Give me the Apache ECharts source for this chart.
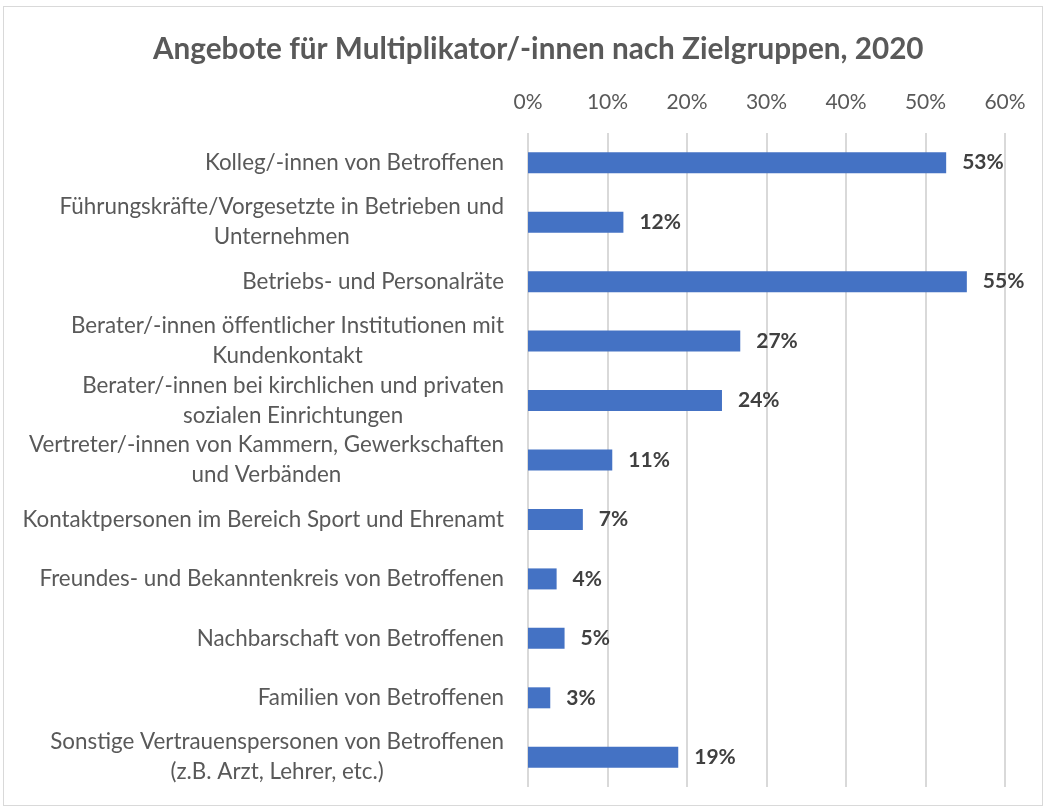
<!DOCTYPE html>
<html>
<head>
    <meta charset="utf-8">
    <title>Angebote für Multiplikator/-innen</title>
    <script src="https://cdn.jsdelivr.net/npm/echarts@6/dist/echarts.min.js"></script>
</head>
<body style="margin:0;background:#fff">
<div id="main" style="position:absolute;left:3px;top:6px;width:1040px;height:800px;border:1px solid #d9d9d9;box-sizing:border-box"></div>
<script type="text/javascript">
    // Kategorien (von oben nach unten) und Werte in Prozent
    var categories = [
        'Kolleg/-innen von Betroffenen',
        'Führungskräfte/Vorgesetzte in Betrieben und\nUnternehmen',
        'Betriebs- und Personalräte',
        'Berater/-innen öffentlicher Institutionen mit\nKundenkontakt',
        'Berater/-innen bei kirchlichen und privaten\nsozialen Einrichtungen',
        'Vertreter/-innen von Kammern, Gewerkschaften\nund Verbänden',
        'Kontaktpersonen im Bereich Sport und Ehrenamt',
        'Freundes- und Bekanntenkreis von Betroffenen',
        'Nachbarschaft von Betroffenen',
        'Familien von Betroffenen',
        'Sonstige Vertrauenspersonen von Betroffenen\n(z.B. Arzt, Lehrer, etc.)'
    ];
    var values = [52.6, 12.0, 55.2, 26.7, 24.4, 10.6, 6.9, 3.6, 4.6, 2.8, 18.9];
    var tickLabels = ['0%', '10%', '20%', '30%', '40%', '50%', '60%'];

    var font = 'Lato, "Open Sans", sans-serif';
    var myChart = echarts.init(document.getElementById('main'));

    myChart.setOption({
        animation: false,
        title: {
            text: 'Angebote für Multiplikator/-innen nach Zielgruppen, 2020',
            left: 144,
            top: 22,
            textStyle: {color: '#595959', fontSize: 29.7, fontWeight: 'bold', fontFamily: font}
        },
        grid: {left: 524, right: 37, top: 126, bottom: 18},
        xAxis: {
            type: 'value',
            position: 'top',
            min: 0,
            max: 60,
            interval: 10,
            axisLine: {show: false},
            axisTick: {show: false},
            splitLine: {lineStyle: {color: '#d9d9d9', width: 2}},
            axisLabel: {
                color: '#595959', fontSize: 21, fontFamily: font, margin: 20,
                formatter: function (v) { return tickLabels[v / 10]; }
            }
        },
        yAxis: {
            type: 'category',
            data: categories,
            inverse: true,
            axisLine: {show: false},
            axisTick: {show: false},
            axisLabel: {
                color: '#595959', fontSize: 22.4, fontFamily: font, lineHeight: 30, margin: 24, align: 'right',
                // mehrzeilige Beschriftungen zentriert wie im Original
                formatter: function (v) {
                    return v.split('\n').map(function (s) { return '{c|' + s + '}'; }).join('\n');
                },
                rich: {
                    c: {align: 'center', color: '#595959', fontSize: 22.4, fontFamily: font, lineHeight: 30}
                }
            }
        },
        series: [{
            type: 'bar',
            data: values,
            barWidth: 21,
            itemStyle: {color: '#4472c4'},
            label: {
                show: true,
                position: 'right',
                distance: 16,
                color: '#404040',
                fontSize: 21,
                fontWeight: 'bold',
                fontFamily: font,
                formatter: function (p) { return Math.round(p.value) + '%'; }
            }
        }]
    });
</script>
</body>
</html>
